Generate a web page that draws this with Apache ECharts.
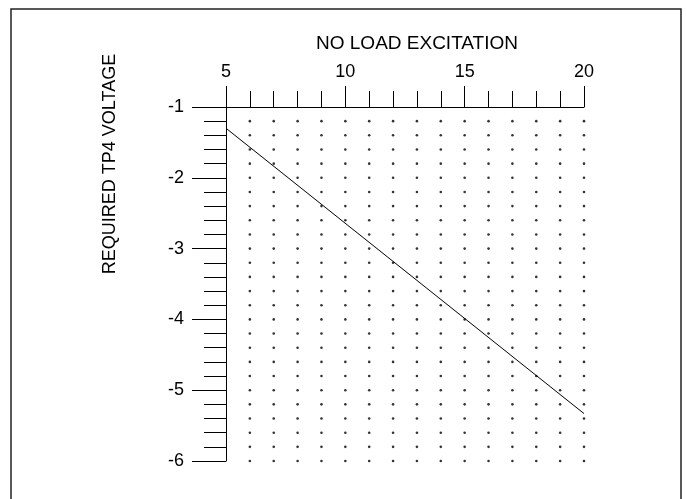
<!DOCTYPE html>
<html>
<head>
<meta charset="utf-8">
<script src="https://cdn.jsdelivr.net/npm/echarts@6/dist/echarts.min.js"></script>
<style>
  html, body { margin: 0; padding: 0; background: #fff; }
  #chart { width: 687px; height: 499px; }
</style>
</head>
<body>
<div id="chart"></div>
<script>
// line: excitation vs required TP4 voltage
const lineX = [5, 20];
const lineY = [-1.3, -5.33];

// dot grid positions
const dotX = [6, 7, 8, 9, 10, 11, 12, 13, 14, 15, 16, 17, 18, 19, 20];
const dotY = [-1.2, -1.4, -1.6, -1.8, -2, -2.2, -2.4, -2.6, -2.8, -3,
              -3.2, -3.4, -3.6, -3.8, -4, -4.2, -4.4, -4.6, -4.8, -5,
              -5.2, -5.4, -5.6, -5.8, -6];

const xTitle = "NO LOAD EXCITATION";
const yTitle = "REQUIRED TP4 VOLTAGE";

const font = "'Liberation Sans', Arial, sans-serif";

const dots = [];
dotX.forEach(x => dotY.forEach(y => dots.push([x, y])));

const chart = echarts.init(document.getElementById('chart'), null, { renderer: 'canvas' });

chart.setOption({
    animation: false,
    backgroundColor: '#fff',
    grid: { left: 226, top: 107, right: 103, bottom: 38 },
    xAxis: {
        type: 'value',
        position: 'top',
        min: 5, max: 20, interval: 5,
        axisLine: { show: true, onZero: false, lineStyle: { color: '#000', width: 1 } },
        axisTick: { show: true, length: 21, lineStyle: { color: '#000', width: 1 } },
        minorTick: { show: true, splitNumber: 5, length: 16, lineStyle: { color: '#000', width: 1 } },
        axisLabel: { color: '#000', fontSize: 18, fontFamily: font, margin: 26 },
        splitLine: { show: false }
    },
    yAxis: {
        type: 'value',
        min: -6, max: -1, interval: 1,
        axisLine: { show: true, onZero: false, lineStyle: { color: '#000', width: 1 } },
        axisTick: { show: true, length: 34, lineStyle: { color: '#000', width: 1 } },
        minorTick: { show: true, splitNumber: 5, length: 22, lineStyle: { color: '#000', width: 1 } },
        axisLabel: { color: '#000', fontSize: 18, fontFamily: font, margin: 42 },
        splitLine: { show: false }
    },
    graphic: [
        {
            type: 'polyline',
            shape: { points: [[11, 510], [11, 9], [681, 9], [681, 510]] },
            style: { stroke: '#222', lineWidth: 1.5, fill: null }
        },
        {
            type: 'text',
            x: 417, y: 44,
            style: { text: xTitle, font: '19px ' + font, fill: '#000', align: 'center', verticalAlign: 'middle' }
        },
        {
            type: 'text',
            x: 110, y: 164,
            rotation: Math.PI / 2,
            style: { text: yTitle, font: '18px ' + font, fill: '#000', align: 'center', verticalAlign: 'middle' }
        }
    ],
    series: [
        {
            type: 'scatter',
            data: dots,
            symbol: 'circle',
            symbolSize: 2.6,
            itemStyle: { color: '#000' },
            silent: true
        },
        {
            type: 'line',
            data: lineX.map((x, i) => [x, lineY[i]]),
            showSymbol: false,
            lineStyle: { color: '#000', width: 1 },
            silent: true
        }
    ]
});
</script>
</body>
</html>
